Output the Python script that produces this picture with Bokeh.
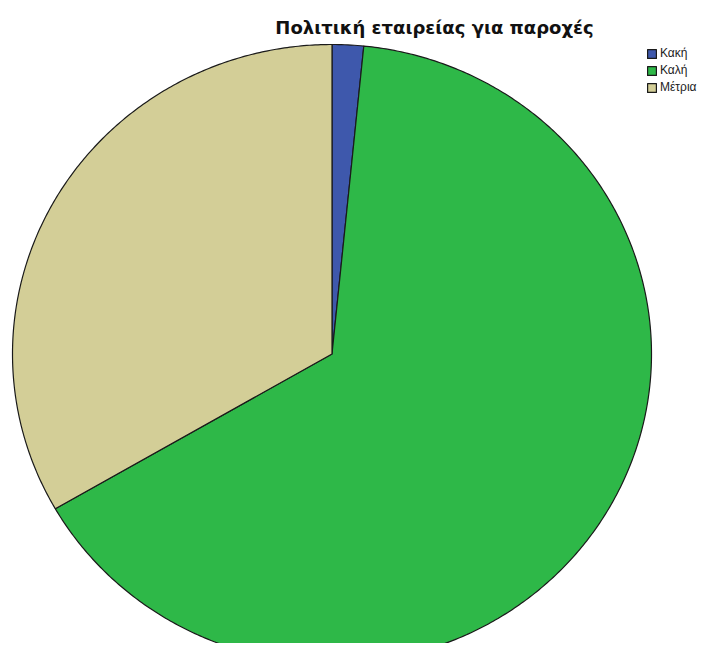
import numpy as np
from bokeh.plotting import figure
from bokeh.models import Range1d, Legend, LegendItem, Label, ColumnDataSource
from bokeh.embed import file_html
from bokeh.resources import INLINE

# ---- data ----
title = "Πολιτική εταιρείας για παροχές"
categories = ["Κακή", "Καλή", "Μέτρια"]
counts = [1, 41, 21]
colors = ["#3E58AC", "#2EB848", "#D3CE97"]

# ---- layout (pixel-like coordinates) ----
W, H = 701, 643
CX, CY = 331.5, 353.5
RX, RY = 319.5, 309.5

p = figure(width=W, height=H, output_backend="svg", toolbar_location=None,
           x_range=Range1d(0, W), y_range=Range1d(H, 0),
           min_border=0, outline_line_color=None)
p.axis.visible = False
p.grid.visible = False
p.background_fill_color = "white"
p.border_fill_color = "white"

total = float(sum(counts))
fracs = np.array(counts) / total
ends = np.cumsum(fracs) * 2 * np.pi
starts = np.concatenate([[0.0], ends[:-1]])

items = []
for cat, s, e, col in zip(categories, starts, ends, colors):
    n = max(int((e - s) / (2 * np.pi) * 720), 4)
    th = np.linspace(s, e, n)
    xs = np.concatenate([[CX], CX + RX * np.sin(th), [CX]])
    ys = np.concatenate([[CY], CY - RY * np.cos(th), [CY]])
    src = ColumnDataSource(dict(x=xs, y=ys))
    r = p.patch("x", "y", source=src, fill_color=col, line_color="#1a1a1a",
                line_width=1.2, line_join="round")
    items.append(LegendItem(label=cat, renderers=[r]))

legend = Legend(items=items, location=(646, 549),
                glyph_width=11, glyph_height=11, label_height=12,
                spacing=3, padding=0, margin=0,
                label_text_font="Liberation Sans", label_text_font_size="12px",
                label_text_color="#222222", label_standoff=3,
                border_line_color=None, background_fill_alpha=0)
p.add_layout(legend)

p.add_layout(Label(x=434, y=27, text=title, text_align="center",
                   text_baseline="middle", text_font="DejaVu Sans",
                   text_font_style="bold", text_font_size="18px",
                   text_color="#111111"))

open("out.html", "w").write(file_html(p, INLINE))
